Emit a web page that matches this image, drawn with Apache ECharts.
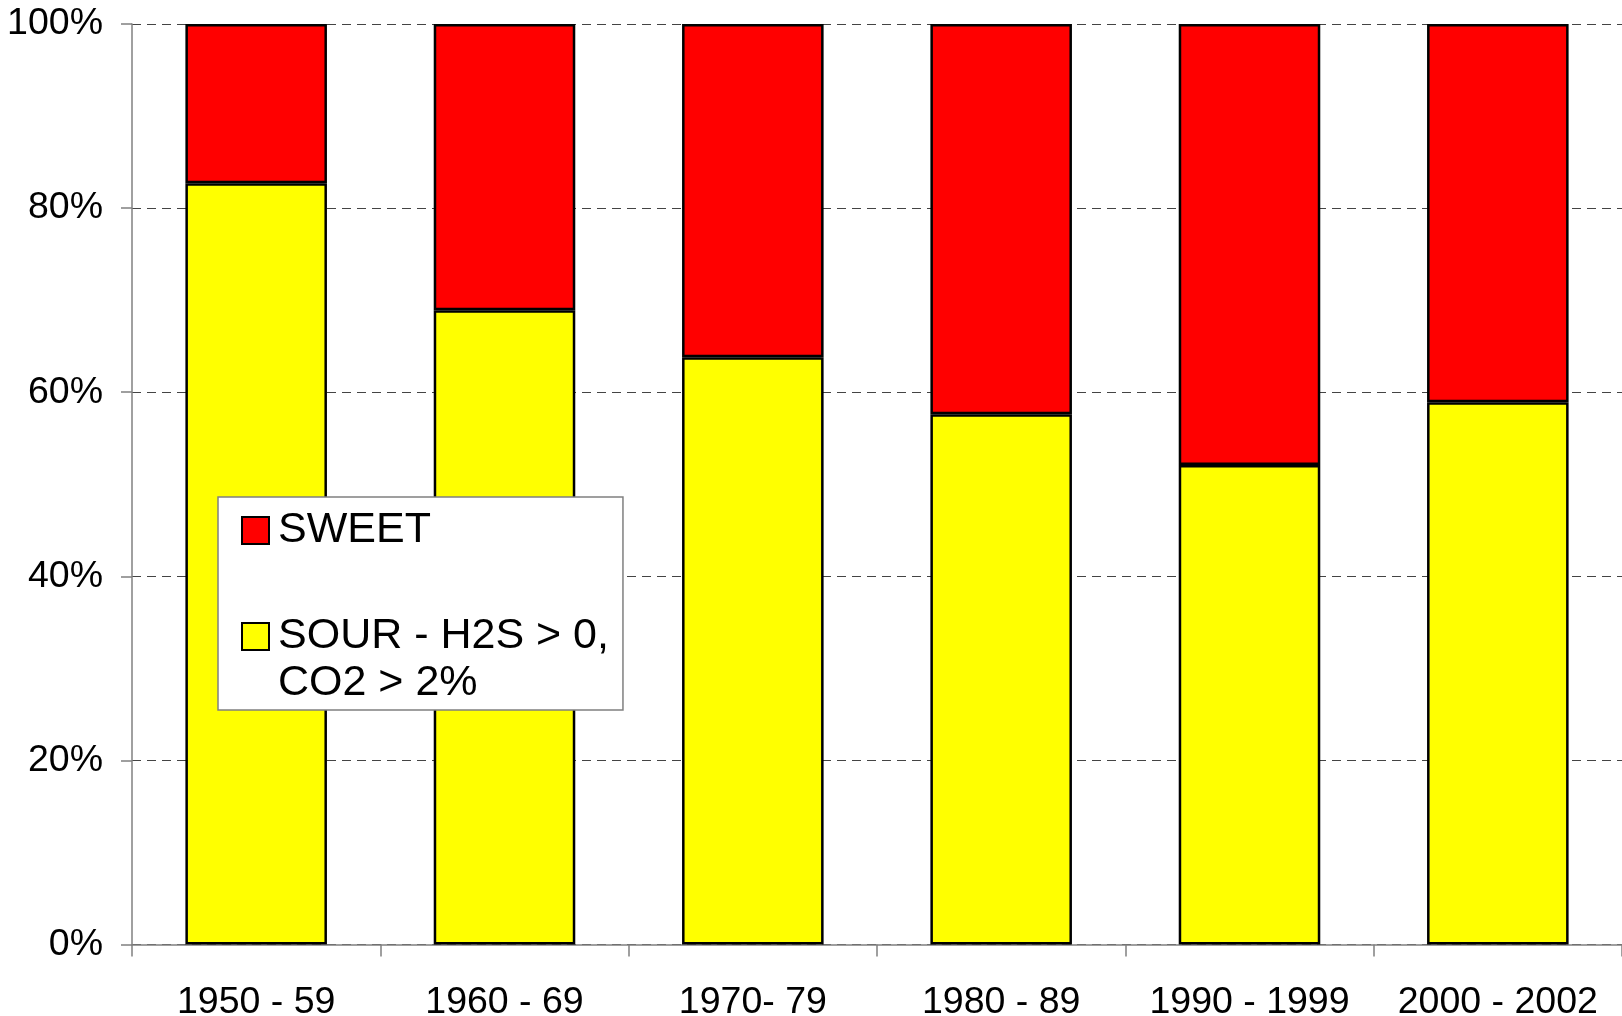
<!DOCTYPE html>
<html>
<head>
<meta charset="utf-8">
<title>Sweet vs Sour</title>
<script src="https://cdn.jsdelivr.net/npm/echarts@6/dist/echarts.min.js"></script>
<style>
  html, body { margin: 0; padding: 0; background: #fff; }
  #chart { width: 1622px; height: 1016px; }
</style>
</head>
<body>
<div id="chart"></div>
<script>
// 数据
const categories = ['1950 - 59', '1960 - 69', '1970- 79', '1980 - 89', '1990 - 1999', '2000 - 2002']
const sourValues = [82.7, 68.9, 63.8, 57.6, 52.1, 58.9]
const sweetValues = sourValues.map(v => +(100 - v).toFixed(1))
const yTicks = [0, 20, 40, 60, 80, 100]

const SWEET = 'SWEET'
const SOUR = 'SOUR - H2S > 0, CO2 > 2%'

const font = 'Liberation Sans, Arial, sans-serif'

const chart = echarts.init(document.getElementById('chart'))

const option = {
  animation: false,
  grid: {
    left: 132,
    right: 0,
    top: 24,
    bottom: 71.5,
    outerBoundsMode: 'none'
  },
  legend: {
    orient: 'vertical',
    left: 218,
    top: 497,
    padding: [10, 14, 3, 23],
    itemGap: 12,
    itemWidth: 27,
    itemHeight: 27,
    backgroundColor: '#fff',
    borderColor: '#808080',
    borderWidth: 1.5,
    borderRadius: 0,
    icon: 'rect',
    itemStyle: { borderColor: '#000', borderWidth: 2 },
    textStyle: {
      fontFamily: font,
      fontSize: 43,
      lineHeight: 47,
      color: '#000',
      padding: [0, 0, 0, 4]
    },
    // 空的首行让图标与第一行文字对齐
    formatter: name => name === SOUR ? '\nSOUR - H2S > 0,\nCO2 > 2%' : name,
    data: [SWEET, SOUR]
  },
  xAxis: {
    type: 'category',
    data: categories,
    axisLine: { lineStyle: { color: '#808080', width: 1.5 } },
    axisTick: { show: true, length: 12, lineStyle: { color: '#808080', width: 1.5 } },
    axisLabel: {
      interval: 0,
      margin: 39,
      fontFamily: font,
      fontSize: 37.5,
      color: '#000'
    }
  },
  yAxis: {
    type: 'value',
    min: yTicks[0],
    max: yTicks[yTicks.length - 1],
    interval: 20,
    axisLine: { show: true, lineStyle: { color: '#808080', width: 1.5 } },
    axisTick: { show: true, length: 11, lineStyle: { color: '#808080', width: 1.5 } },
    axisLabel: {
      margin: 29,
      fontFamily: font,
      fontSize: 37.5,
      color: '#000',
      formatter: '{value}%'
    },
    splitLine: {
      show: true,
      lineStyle: { color: '#444', width: 1.2, type: [9, 6] }
    }
  },
  series: [
    {
      name: SOUR,
      type: 'bar',
      stack: 'total',
      barWidth: '57%',
      itemStyle: { color: '#ffff00', borderColor: '#000', borderWidth: 2.5 },
      data: sourValues
    },
    {
      name: SWEET,
      type: 'bar',
      stack: 'total',
      barWidth: '57%',
      itemStyle: { color: '#ff0000', borderColor: '#000', borderWidth: 2.5 },
      data: sweetValues
    }
  ]
}

chart.setOption(option)
</script>
</body>
</html>
